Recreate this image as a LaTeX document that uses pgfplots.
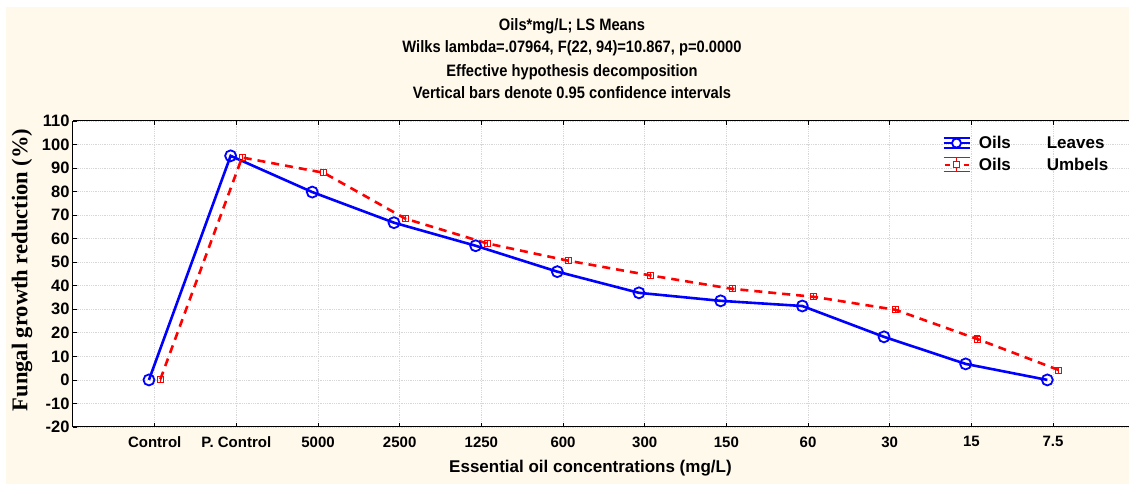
\documentclass[border=0pt]{standalone}
\usepackage{pgfplots}
\pgfplotsset{compat=1.18}
\usepackage{fontspec}
\setmainfont{Liberation Sans}
\newfontfamily\timesb{Liberation Serif}
\newfontfamily\narrowfont[FakeStretch=0.89]{Liberation Sans}
\definecolor{cream}{RGB}{255,249,236}
\definecolor{gridc}{RGB}{215,215,215}
\begin{document}
\begin{tikzpicture}
\path[use as bounding box, fill=white] (0,0) rectangle (1129pt,484pt);
\fill[cream] (6pt,0pt) rectangle (1129pt,477pt);
\begin{scope}[every node/.style={anchor=base, font=\narrowfont\bfseries\fontsize{16.5}{18}\selectfont}]
\node at (572pt,453pt) {Oils*mg/L; LS Means};
\node at (572pt,431pt) {Wilks lambda=.07964, F(22, 94)=10.867, p=0.0000};
\node at (572pt,407pt) {Effective hypothesis decomposition};
\node at (572pt,385pt) {Vertical bars denote 0.95 confidence intervals};
\end{scope}
\begin{axis}[
  at={(73pt,57pt)}, anchor=south west,
  scale only axis, width=1056pt, height=306pt,
  xmin=-1, xmax=11.93, ymin=-20, ymax=110,
  axis x line=box, axis y line*=left,
  axis line style={black, line width=1pt},
  axis background/.style={fill=white},
  xtick={0,1,2,3,4,5,6,7,8,9,10,11},
  xticklabels={Control,P. Control,5000,2500,1250,600,300,150,60,30,15,7.5},
  ytick={-20,-10,0,10,20,30,40,50,60,70,80,90,100,110},
  tick style={black, line width=0.8pt},
  major tick length=4pt,
  grid=major,
  major grid style={gridc, line width=0.8pt, densely dotted},
  /pgf/number format/assume math mode=true,
  xticklabel style={font=\bfseries\fontsize{15}{15}\selectfont, yshift=-6pt},
  yticklabel style={font=\bfseries\fontsize{16.5}{16.5}\selectfont},
  xlabel={Essential oil concentrations (mg/L)},
  xlabel style={font=\bfseries\fontsize{17}{17}\selectfont, at={(axis description cs:0.49,-0.134)}, anchor=center},
  ylabel={Fungal growth reduction (\%)},
  ylabel style={font=\timesb\bfseries\fontsize{22.5}{22.5}\selectfont, at={(axis description cs:0,0.5)}, anchor=center, yshift=51pt, xshift=4pt},
  legend style={at={(868pt,294pt)}, anchor=north west, draw=none, fill=none,
    font=\bfseries\fontsize{17}{17}\selectfont, row sep=4pt, inner sep=1pt},
  legend cell align=left,
  clip=false,
]
\addplot[blue, line width=2.6pt, mark=o, mark size=5.5pt,
  mark options={solid, fill=white, line width=1.8pt},
  legend image code/.code={
    \draw[blue, line width=1.3pt] (0pt,5pt) -- (26pt,5pt) (0pt,-5pt) -- (26pt,-5pt) (13pt,-5pt) -- (13pt,5pt);
    \draw[blue, line width=2.6pt] (0pt,0pt) -- (26pt,0pt);
    \draw[blue, fill=white, line width=1.8pt] (13pt,0pt) circle (4.5pt);
  }]
coordinates {
(-0.07,0) (0.93,95.2) (1.93,79.8) (2.93,66.8) (3.93,57) (4.93,46) (5.93,37) (6.93,33.6) (7.93,31.4) (8.93,18.3) (9.93,6.8) (10.93,0)
};
\addlegendentry{\hspace{6pt}\makebox[68pt][l]{Oils}Leaves}
\addplot[red, line width=2.6pt, dash pattern=on 8pt off 6pt, mark=square, mark size=3pt,
  mark options={solid, fill=white, line width=0.9pt},
  error bars/.cd, y dir=both, y explicit,
  error bar style={solid, line width=0.9pt}, error mark options={rotate=90, mark size=3pt, line width=0.9pt},
  /pgfplots/legend image code/.code={
    \draw[red, solid, line width=1.1pt] (0pt,7pt) -- (26pt,7pt) (0pt,-7pt) -- (26pt,-7pt) (13pt,-7pt) -- (13pt,7pt);
    \draw[red, solid, line width=2.6pt] (1pt,0pt) -- (6pt,0pt) (20pt,0pt) -- (25pt,0pt);
    \draw[red, solid, fill=white, line width=1pt] (10pt,-3pt) rectangle (16pt,3pt);
  }]
coordinates {
(0.07,0.3) +- (0,1.3)
(1.07,94.5) +- (0,1.3)
(2.07,88) +- (0,1.3)
(3.07,68.5) +- (0,1.3)
(4.07,58) +- (0,1.3)
(5.07,50.6) +- (0,1.3)
(6.07,44.4) +- (0,1.3)
(7.07,38.7) +- (0,1.3)
(8.07,35.3) +- (0,1.3)
(9.07,29.8) +- (0,1.3)
(10.07,17.4) +- (0,1.3)
(11.07,4.2) +- (0,1.3)
};
\addlegendentry{\hspace{6pt}\makebox[68pt][l]{Oils}Umbels}
\end{axis}
\end{tikzpicture}
\end{document}
